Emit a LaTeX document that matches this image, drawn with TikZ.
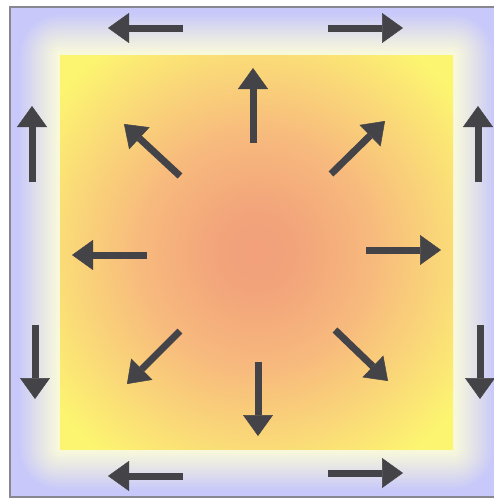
\documentclass[tikz,border=0pt]{standalone}
\usetikzlibrary{arrows.meta}
\definecolor{lav}{RGB}{200,200,250}
\definecolor{glowc}{RGB}{250,250,218}
\definecolor{arrgray}{RGB}{68,68,72}
\definecolor{framec}{RGB}{135,135,145}
\pgfdeclareradialshading{sqglow}{\pgfpoint{0bp}{0bp}}{%
  rgb(0bp)=(0.95,0.63,0.48);
  rgb(5bp)=(0.95,0.64,0.48);
  rgb(15bp)=(0.97,0.73,0.49);
  rgb(24bp)=(0.98,0.85,0.47);
  rgb(32bp)=(0.99,0.96,0.44);
  rgb(50bp)=(0.99,0.97,0.44)}
\tikzset{
  bigarrow/.style={draw=arrgray, line width=7pt,
    -{Triangle[length=21pt,width=30pt,line width=0.5pt]}},
}
\begin{document}
\begin{tikzpicture}[x=1pt,y=-1pt]
\useasboundingbox (0,0) rectangle (493,498);
\fill[white] (0,0) rectangle (493,498);
% outer lavender frame
\fill[lav] (10,7) rectangle (503,497);
\begin{scope}
\clip (10,7) rectangle (503,497);
\foreach \i [evaluate=\i as \p using 100*(\i/42)^1.15] in {42,40,...,2}{
  \fill[lav!\p!glowc, rounded corners=\i pt] (60-\i,55-\i) rectangle (453+\i,449+\i);
}
\end{scope}
\draw[framec, line width=1.2pt] (503,7) -- (10,7) -- (10,497) -- (503,497);
% inner square with radial glow
\shade[shading=sqglow] (60,55) rectangle (453,449);
% border arrows
\coordinate (b1s) at (183,28);  \coordinate (b1e) at (108,28);
\coordinate (b2s) at (328,28);  \coordinate (b2e) at (403,28);
\coordinate (b3s) at (183,476); \coordinate (b3e) at (108,476);
\coordinate (b4s) at (328,473); \coordinate (b4e) at (403,473);
\coordinate (b5s) at (32,182);  \coordinate (b5e) at (32,106);
\coordinate (b6s) at (35,325);  \coordinate (b6e) at (35,399);
\coordinate (b7s) at (478,182); \coordinate (b7e) at (478,106);
\coordinate (b8s) at (480,325); \coordinate (b8e) at (480,399);
% radial arrows
\coordinate (r1s) at (253,143); \coordinate (r1e) at (253,68);
\coordinate (r2s) at (258,362); \coordinate (r2e) at (258,436);
\coordinate (r3s) at (147,255); \coordinate (r3e) at (72,255);
\coordinate (r4s) at (366,250); \coordinate (r4e) at (441,250);
\coordinate (r5s) at (180,176); \coordinate (r5e) at (124,124);
\coordinate (r6s) at (331,174); \coordinate (r6e) at (385,121);
\coordinate (r7s) at (180,331); \coordinate (r7e) at (127,384);
\coordinate (r8s) at (335,330); \coordinate (r8e) at (388,381);
\foreach \n in {b1,b2,b3,b4,b5,b6,b7,b8,r1,r2,r3,r4,r5,r6,r7,r8}{
  \draw[bigarrow] (\n s) -- (\n e);
}
\end{tikzpicture}
\end{document}
